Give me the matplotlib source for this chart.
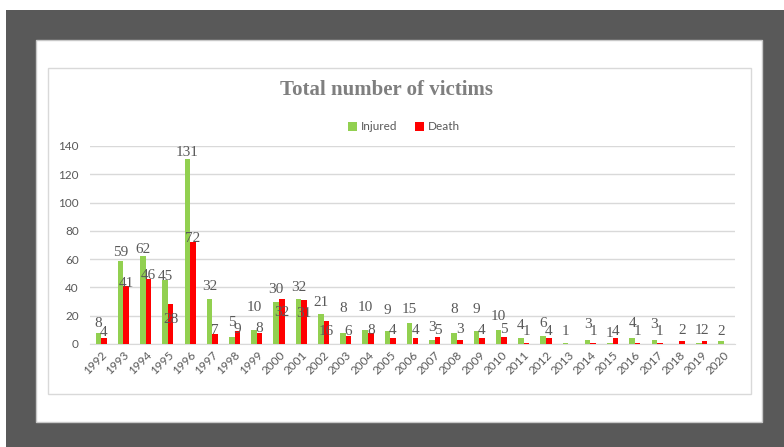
import numpy as np
import matplotlib
matplotlib.use('Agg')
import matplotlib.pyplot as plt
from matplotlib.patches import Rectangle

# data (None = no bar / no label)
years = [str(y) for y in range(1992, 2021)]
injured = [8, 59, 62, 45, 131, 32, 5, 10, 30, 32, 21, 8, 10, 9, 15, 3, 8, 9, 10,
           4, 6, 1, 3, 1, 4, 3, None, 1, 2]
death = [4, 41, 46, 28, 72, 7, 9, 8, 32, 31, 16, 6, 8, 4, 4, 5, 3, 4, 5,
         1, 4, None, 1, 4, 1, 1, 2, 2, None]

# label placement: pixels of label centre above the bar top
inj_off = {'1992': 9, '1993': 8, '1994': 7, '1995': 4, '1996': 6, '1998': 14,
           '1999': 22, '2003': 24, '2004': 22, '2005': 21, '2008': 23, '2009': 22,
           '2011': 13, '2012': 12, '2014': 15, '2016': 15, '2017': 15, '2015': 9,
           '2019': 12, '2020': 10, '2010': 13, '2000': 12, '2001': 11, '2002': 12,
           '2006': 13, '2007': 12, '1997': 12}
dth_off = {'1992': 6, '1993': 3, '1994': 3, '1995': -15, '1996': 4, '1997': 4,
           '1998': 2, '1999': 4, '2000': -14, '2001': -13, '2002': -10, '2003': 4.5,
           '2004': 2, '2005': 8, '2006': 8, '2007': 6, '2008': 10, '2009': 8,
           '2010': 7, '2012': 6.6, '2015': 6.6}

GREEN = '#92D050'
RED = '#FF0000'
W, H = 784, 447
DPI = 100

fig = plt.figure(figsize=(W / DPI, H / DPI), dpi=DPI)
fig.patch.set_facecolor('white')


def px_rect(x0, y0, x1, y1, **kw):
    # rectangle in pixel coords (origin top-left)
    r = Rectangle((x0 / W, 1 - y1 / H), (x1 - x0) / W, (y1 - y0) / H,
                  transform=fig.transFigure, zorder=-5, **kw)
    fig.patches.append(r)


px_rect(6, 10, 790, 450, facecolor='#595959', edgecolor='none')
px_rect(36, 40, 762, 422, facecolor='white', edgecolor='#c8c8c8', linewidth=1)
px_rect(48, 68, 751, 394, facecolor='white', edgecolor='#d9d9d9', linewidth=1)

ax_l, ax_r, ax_t, ax_b = 90, 735, 146, 344
ax = fig.add_axes([ax_l / W, 1 - ax_b / H, (ax_r - ax_l) / W, (ax_b - ax_t) / H])
ax.set_facecolor('none')

x = np.arange(len(years))
bw = 0.25
inj = np.array([np.nan if v is None else v for v in injured], dtype=float)
dth = np.array([np.nan if v is None else v for v in death], dtype=float)
ax.bar(x - bw / 2, np.nan_to_num(inj), bw, color=GREEN, label='Injured', zorder=3)
ax.bar(x + bw / 2, np.nan_to_num(dth), bw, color=RED, label='Death', zorder=3)

ax.set_xlim(-0.5, len(years) - 0.5)
ax.set_ylim(0, 140)
ax.set_yticks(range(0, 141, 20))
ax.grid(axis='y', color='#d9d9d9', linewidth=1, zorder=0)
for s in ['top', 'right', 'left']:
    ax.spines[s].set_visible(False)
ax.spines['bottom'].set_color('#d9d9d9')
ax.tick_params(axis='both', length=0, colors='#595959', labelsize=8.5)
ax.tick_params(axis='y', pad=8)
ax.set_xticks(x)
ax.set_xticklabels(years, rotation=45, ha='right', rotation_mode='anchor',
                   fontfamily='Lato')
for t in ax.get_yticklabels():
    t.set_fontfamily('Lato')
ax.tick_params(axis='x', pad=4)

px_per_unit = (ax_b - ax_t) / 140.0
lbl = dict(ha='center', va='center', fontsize=11, color='#595959',
           fontfamily='Liberation Serif', zorder=5)
for i, yr in enumerate(years):
    if not np.isnan(inj[i]):
        off = inj_off.get(yr, 11) / px_per_unit
        ax.text(x[i] - bw / 2, inj[i] + off, f'{int(inj[i])}', **lbl)
    if not np.isnan(dth[i]):
        off = dth_off.get(yr, 11) / px_per_unit
        ax.text(x[i] + bw / 2, dth[i] + off, f'{int(dth[i])}', **lbl)

fig.text(387 / W, 1 - 90 / H, 'Total number of victims', ha='center', va='center',
         fontsize=15, fontweight='bold', color='#7f7f7f', fontfamily='Liberation Serif')

leg = ax.legend(loc='center', bbox_to_anchor=((404 - ax_l) / (ax_r - ax_l),
                (ax_b - 127) / (ax_b - ax_t)), ncol=2, frameon=False,
                prop={'family': 'Lato', 'size': 8.5}, handlelength=0.75,
                handleheight=0.75, handletextpad=0.3, columnspacing=1.5)
for t in leg.get_texts():
    t.set_color('#595959')

fig.savefig('out.png', dpi=DPI)
